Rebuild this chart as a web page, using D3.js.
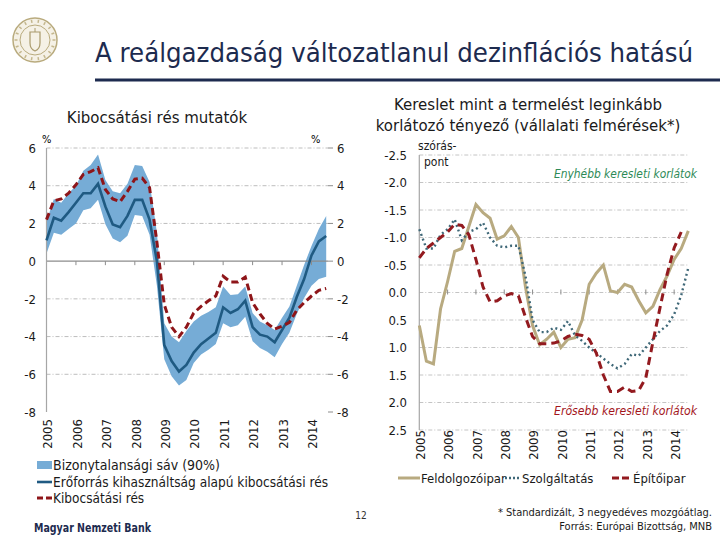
<!DOCTYPE html>
<html><head><meta charset="utf-8">
<script src="https://cdn.jsdelivr.net/npm/d3@7"></script>
<style>body{margin:0;background:#fff} svg{display:block}</style>
</head><body><svg id="c" width="720" height="540"></svg>
<script>
// ---- data (quarterly, 2005Q1 .. 2014Q3) ----
const years = ["2005","2006","2007","2008","2009","2010","2011","2012","2013","2014"];
const leftTicks = [6,4,2,0,-2,-4,-6,-8];
const rightTicks = [-2.5,-2.0,-1.5,-1.0,-0.5,0.0,0.5,1.0,1.5,2.0,2.5];

const bandUpper = [2.1,3.3,3.1,3.6,4.0,4.8,5.1,5.65,4.3,3.7,3.6,4.1,5.1,5.05,4.2,1.5,-3.3,-4.0,-4.3,-3.7,-3.2,-2.9,-2.7,-2.45,-1.35,-1.8,-1.75,-1.35,-2.75,-3.2,-3.4,-3.65,-3.0,-2.4,-1.3,-0.2,0.8,1.7,2.4];
const bandLower = [0.4,1.5,1.4,1.7,2.0,2.7,2.8,3.25,1.95,1.2,1.0,1.35,2.45,2.4,1.4,-1.3,-5.2,-6.1,-6.6,-6.3,-5.4,-4.95,-4.7,-4.4,-3.3,-3.5,-3.4,-2.95,-4.25,-4.6,-4.8,-5.1,-4.4,-3.8,-2.8,-1.95,-1.3,-0.95,-0.83];
const gapCapacity = [1.1,2.3,2.15,2.6,3.1,3.6,3.6,4.1,2.9,1.95,1.8,2.4,3.25,3.25,2.2,0.0,-4.45,-5.3,-5.85,-5.5,-4.85,-4.4,-4.1,-3.8,-2.45,-2.75,-2.55,-2.1,-3.5,-3.9,-4.0,-4.3,-3.65,-3.0,-1.9,-0.95,0.3,1.05,1.33];
const gapOutput = [2.2,3.2,3.3,3.6,4.05,4.6,4.75,4.95,3.8,3.3,3.15,3.7,4.35,4.4,3.9,1.0,-2.3,-3.5,-4.0,-3.5,-2.75,-2.4,-2.1,-1.85,-0.8,-1.1,-1.1,-0.85,-2.2,-2.8,-3.3,-3.6,-3.45,-3.25,-2.6,-2.2,-1.85,-1.55,-1.45];

const manufacturing = [0.6,1.25,1.3,0.3,-0.2,-0.75,-0.8,-1.2,-1.6,-1.45,-1.35,-0.97,-1.03,-1.2,-1.0,-0.1,0.6,0.95,0.85,0.72,1.0,0.85,0.82,0.5,-0.15,-0.35,-0.5,-0.03,0.0,-0.15,-0.1,0.15,0.37,0.25,-0.05,-0.3,-0.6,-0.8,-1.12];
const services = [-1.15,-0.8,-0.8,-1.05,-1.15,-1.33,-0.95,-1.1,-1.15,-1.27,-1.0,-0.85,-0.82,-0.85,-0.85,-0.3,0.5,0.72,0.72,0.64,0.68,0.52,0.78,0.88,1.0,1.1,1.2,1.3,1.38,1.3,1.12,1.15,1.0,0.85,0.7,0.6,0.4,0.05,-0.45];
const construction = [-0.63,-0.8,-0.9,-1.0,-1.1,-1.24,-1.22,-1.05,-0.6,-0.1,0.17,0.15,0.06,0.02,0.06,0.45,0.8,0.93,0.93,0.92,0.88,0.8,0.76,0.78,0.85,1.1,1.5,1.8,1.8,1.72,1.8,1.78,1.55,0.9,0.28,-0.33,-0.81,-1.1];

// ---- styles ----
const navy = "#1d2b4f";
const cBand = "#76acd6", cCap = "#1f5a82", cGap = "#8e1519";
const cMan = "#b8aa80", cSrv = "#3f6878", cCon = "#931a1f";
const tickFont = "DejaVu Sans Condensed, DejaVu Sans, sans-serif";
const wide = "DejaVu Sans, sans-serif";
const narrow = "DejaVu Sans Condensed, sans-serif";

const svg = d3.select("#c");

// ---- header ----
const logo = svg.append("g").attr("transform","translate(35,40)");
logo.append("circle").attr("r",22).attr("fill","#f5f1e6").attr("stroke","#b9ab7e").attr("stroke-width",1.5);
logo.append("circle").attr("r",15).attr("fill","none").attr("stroke","#b9ab7e").attr("stroke-width",1);
logo.append("path").attr("d","M-5,-8 L5,-8 L5,3 Q5,9 0,11 Q-5,9 -5,3 Z").attr("fill","none").attr("stroke","#a99a6c").attr("stroke-width",1.2);
logo.append("line").attr("x1",0).attr("x2",0).attr("y1",-12).attr("y2",-8).attr("stroke","#a99a6c");
d3.range(0,360,20).forEach(a=>{
  const r1=17.5,r2=20.5,t=a*Math.PI/180;
  logo.append("line").attr("x1",r1*Math.cos(t)).attr("y1",r1*Math.sin(t)).attr("x2",r2*Math.cos(t)).attr("y2",r2*Math.sin(t)).attr("stroke","#c4b78e").attr("stroke-width",1.5);
});

svg.append("text").attr("x",95).attr("y",62).attr("fill",navy)
  .style("font-family","DejaVu Sans Condensed, DejaVu Sans, sans-serif").style("font-size","27px")
  .attr("textLength",598).attr("lengthAdjust","spacingAndGlyphs")
  .text("A reálgazdaság változatlanul dezinflációs hatású");
svg.append("rect").attr("x",95).attr("y",78.5).attr("width",625).attr("height",3).attr("fill",navy);

svg.append("text").attr("x",157).attr("y",123).attr("text-anchor","middle").attr("fill","#1a1a1a")
  .style("font-family",wide).style("font-size","15px").text("Kibocsátási rés mutatók");
svg.append("text").attr("x",528).attr("y",110).attr("text-anchor","middle").attr("fill","#1a1a1a")
  .style("font-family",wide).style("font-size","15px").text("Kereslet mint a termelést leginkább");
svg.append("text").attr("x",528).attr("y",131).attr("text-anchor","middle").attr("fill","#1a1a1a")
  .style("font-family",wide).style("font-size","15px").text("korlátozó tényező (vállalati felmérések*)");

// ---- left chart ----
const xL = d3.scaleLinear().domain([0,38]).range([46.5,326.2]);
const yL = d3.scaleLinear().domain([-8,6]).range([412,148]);
const gL = svg.append("g");

gL.selectAll("line.grid").data(leftTicks.filter(d=>d!==0 && d!==-8)).join("line")
  .attr("x1",46.5).attr("x2",328).attr("y1",d=>yL(d)).attr("y2",d=>yL(d))
  .attr("stroke","#bdbdbd").attr("stroke-width",1).attr("stroke-dasharray","4,2,1,2");

gL.append("path").datum(d3.range(bandUpper.length))
  .attr("d",d3.area().x(i=>xL(i)).y0(i=>yL(bandLower[i])).y1(i=>yL(bandUpper[i])))
  .attr("fill",cBand);

gL.append("line").attr("x1",46.5).attr("x2",328).attr("y1",yL(0)).attr("y2",yL(0)).attr("stroke","#8c8c8c").attr("stroke-width",1.2);
gL.selectAll("line.xt").data(d3.range(4,38,4)).join("line")
  .attr("x1",i=>xL(i)).attr("x2",i=>xL(i)).attr("y1",yL(0)).attr("y2",yL(0)+4).attr("stroke","#8c8c8c");
gL.append("line").attr("x1",46.5).attr("x2",46.5).attr("y1",yL(6)).attr("y2",yL(-8)).attr("stroke","#a6a6a6").attr("stroke-width",1.2);

gL.append("path").datum(gapCapacity)
  .attr("d",d3.line().x((d,i)=>xL(i)).y(d=>yL(d)))
  .attr("fill","none").attr("stroke",cCap).attr("stroke-width",2.6);
gL.append("path").datum(gapOutput)
  .attr("d",d3.line().x((d,i)=>xL(i)).y(d=>yL(d)))
  .attr("fill","none").attr("stroke",cGap).attr("stroke-width",3).attr("stroke-dasharray","7,4");

gL.selectAll("text.yl").data(leftTicks).join("text")
  .attr("x",36).attr("y",d=>yL(d)).attr("dy","0.36em").attr("text-anchor","end")
  .style("font-family",tickFont).style("font-size","13px").attr("fill","#1a1a1a")
  .text(d=>String(d));
gL.selectAll("line.rt").data(leftTicks).join("line")
  .attr("x1",328).attr("x2",333).attr("y1",d=>yL(d)).attr("y2",d=>yL(d)).attr("stroke","#8c8c8c");
gL.selectAll("text.yr").data(leftTicks).join("text")
  .attr("x",337).attr("y",d=>yL(d)).attr("dy","0.36em").attr("text-anchor","start")
  .style("font-family",tickFont).style("font-size","13px").attr("fill","#1a1a1a")
  .text(d=>String(d));
svg.append("text").attr("x",42).attr("y",143).style("font-family",tickFont).style("font-size","11px").text("%");
svg.append("text").attr("x",311).attr("y",143).style("font-family",tickFont).style("font-size","11px").text("%");

gL.selectAll("text.xl").data(years).join("text")
  .attr("transform",(d,i)=>`translate(${xL(i*4)+1},419) rotate(-90)`)
  .attr("dy","0.36em").attr("text-anchor","end")
  .style("font-family",tickFont).style("font-size","13px").attr("fill","#1a1a1a").text(d=>d);

// left legend
const lg = svg.append("g").style("font-family",narrow).style("font-size","13.5px").attr("fill","#1a1a1a");
lg.append("rect").attr("x",37).attr("y",461).attr("width",15).attr("height",8).attr("fill",cBand);
lg.append("text").attr("x",53).attr("y",469.5).attr("textLength",167).attr("lengthAdjust","spacingAndGlyphs").text("Bizonytalansági sáv (90%)");
lg.append("line").attr("x1",37).attr("x2",52).attr("y1",482).attr("y2",482).attr("stroke",cCap).attr("stroke-width",2.6);
lg.append("text").attr("x",53).attr("y",486.5).attr("textLength",275).attr("lengthAdjust","spacingAndGlyphs").text("Erőforrás kihasználtság alapú kibocsátási rés");
lg.append("line").attr("x1",37).attr("x2",52).attr("y1",498).attr("y2",498).attr("stroke",cGap).attr("stroke-width",3).attr("stroke-dasharray","6,3");
lg.append("text").attr("x",53).attr("y",502.5).text("Kibocsátási rés");

// ---- right chart ----
const xR = d3.scaleLinear().domain([0,38]).range([419.3,688.3]);
const yR = d3.scaleLinear().domain([-2.5,2.5]).range([155,430]);
const gR = svg.append("g");

gR.selectAll("line.grid").data(rightTicks).join("line")
  .attr("x1",419.3).attr("x2",689).attr("y1",d=>yR(d)).attr("y2",d=>yR(d))
  .attr("stroke","#c4c4c4").attr("stroke-width",1).attr("stroke-dasharray","4,2,1,2");
gR.append("line").attr("x1",419.3).attr("x2",419.3).attr("y1",yR(-2.5)).attr("y2",yR(2.5)).attr("stroke","#a6a6a6").attr("stroke-width",1.2);
gR.selectAll("line.xt").data(d3.range(4,38,4)).join("line")
  .attr("x1",i=>xR(i)).attr("x2",i=>xR(i)).attr("y1",yR(0)-3).attr("y2",yR(0)+2).attr("stroke","#8c8c8c");

gR.append("path").datum(manufacturing)
  .attr("d",d3.line().x((d,i)=>xR(i)).y(d=>yR(d)))
  .attr("fill","none").attr("stroke",cMan).attr("stroke-width",3);
gR.append("path").datum(services)
  .attr("d",d3.line().x((d,i)=>xR(i)).y(d=>yR(d)))
  .attr("fill","none").attr("stroke",cSrv).attr("stroke-width",2.4).attr("stroke-dasharray","2,3");
gR.append("path").datum(construction)
  .attr("d",d3.line().x((d,i)=>xR(i)).y(d=>yR(d)))
  .attr("fill","none").attr("stroke",cCon).attr("stroke-width",3).attr("stroke-dasharray","8,5");

gR.selectAll("text.yl").data(rightTicks).join("text")
  .attr("x",407).attr("y",d=>yR(d)).attr("dy","0.36em").attr("text-anchor","end")
  .style("font-family",tickFont).style("font-size","13px").attr("fill","#1a1a1a")
  .text(d=>d3.format(".1f")(d).replace("−","-"));
gR.selectAll("text.xl").data(years).join("text")
  .attr("transform",(d,i)=>`translate(${xR(i*4)+1},430) rotate(-90)`)
  .attr("dy","0.36em").attr("text-anchor","end")
  .style("font-family",tickFont).style("font-size","13px").attr("fill","#1a1a1a").text(d=>d);

svg.append("text").attr("x",418).attr("y",150).style("font-family",tickFont).style("font-size","12px").attr("fill","#1a1a1a").text("szórás-");
svg.append("text").attr("x",424).attr("y",166).style("font-family",tickFont).style("font-size","12px").attr("fill","#1a1a1a").text("pont");

svg.append("text").attr("x",697).attr("y",178).attr("text-anchor","end").attr("fill","#2e8a57")
  .style("font-family",narrow).style("font-size","13px").style("font-style","italic")
  .attr("textLength",143).attr("lengthAdjust","spacingAndGlyphs").text("Enyhébb keresleti korlátok");
svg.append("text").attr("x",697).attr("y",415).attr("text-anchor","end").attr("fill","#a3161c")
  .style("font-family",narrow).style("font-size","13px").style("font-style","italic")
  .attr("textLength",143).attr("lengthAdjust","spacingAndGlyphs").text("Erősebb keresleti korlátok");

// right legend
const rg = svg.append("g").style("font-family",narrow).style("font-size","13px").attr("fill","#1a1a1a");
rg.append("line").attr("x1",398).attr("x2",420).attr("y1",478).attr("y2",478).attr("stroke",cMan).attr("stroke-width",3);
rg.append("text").attr("x",421).attr("y",483).text("Feldolgozóipar");
rg.append("line").attr("x1",505).attr("x2",520).attr("y1",478).attr("y2",478).attr("stroke",cSrv).attr("stroke-width",2.4).attr("stroke-dasharray","2,2");
rg.append("text").attr("x",522).attr("y",483).text("Szolgáltatás");
rg.append("line").attr("x1",612).attr("x2",631).attr("y1",478).attr("y2",478).attr("stroke",cCon).attr("stroke-width",3).attr("stroke-dasharray","7,3");
rg.append("text").attr("x",633).attr("y",483).text("Építőipar");

// ---- footer ----
svg.append("text").attr("x",34).attr("y",532).attr("fill",navy)
  .style("font-family","DejaVu Sans Condensed, sans-serif").style("font-size","12.5px").style("font-weight","bold")
  .attr("textLength",117).attr("lengthAdjust","spacingAndGlyphs").text("Magyar Nemzeti Bank");
svg.append("text").attr("x",361).attr("y",519).attr("text-anchor","middle").attr("fill","#333")
  .style("font-family",tickFont).style("font-size","10px").text("12");
svg.append("text").attr("x",712).attr("y",516).attr("text-anchor","end").attr("fill","#1a1a1a")
  .style("font-family",narrow).style("font-size","11px").text("* Standardizált, 3 negyedéves mozgóátlag.");
svg.append("text").attr("x",712).attr("y",530).attr("text-anchor","end").attr("fill","#1a1a1a")
  .style("font-family",narrow).style("font-size","11px").text("Forrás: Európai Bizottság, MNB");
</script></body></html>
